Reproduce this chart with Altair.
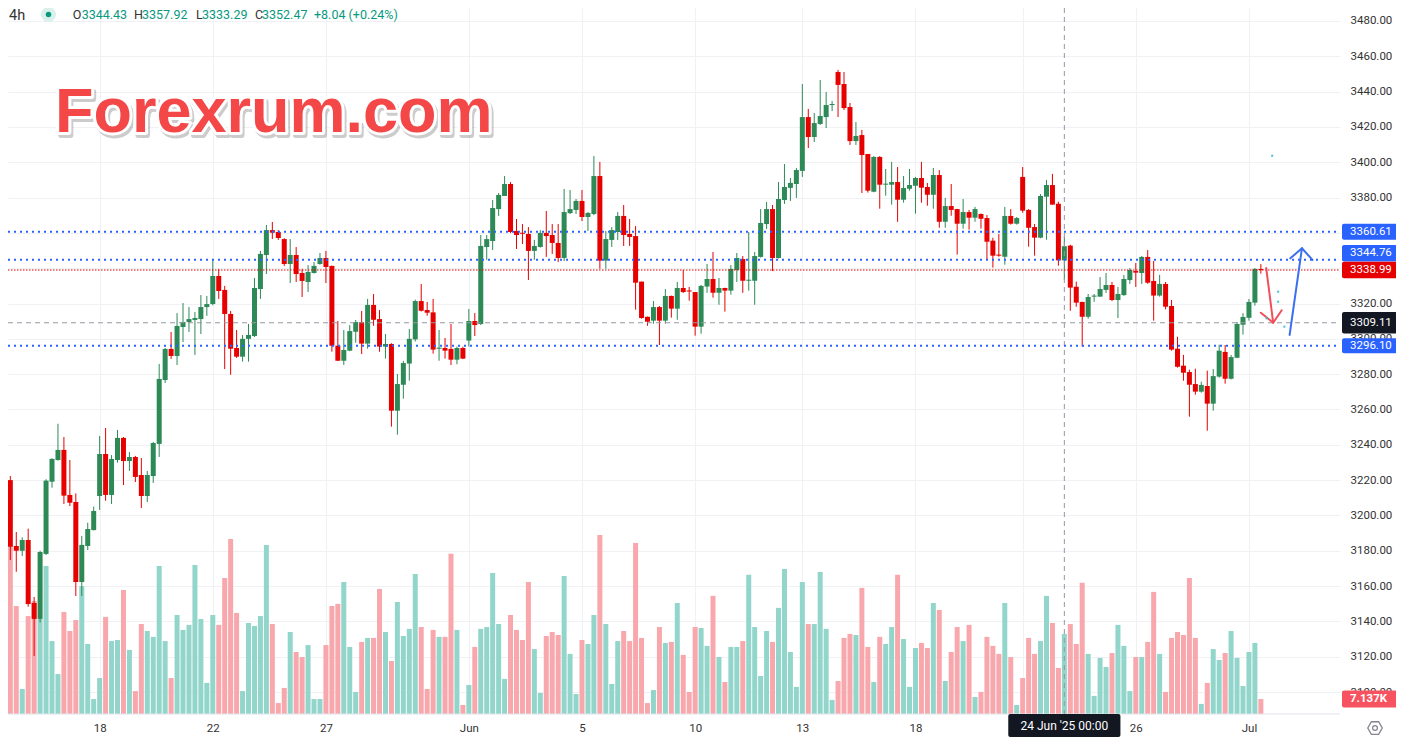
import altair as alt
import pandas as pd

# ---------------- values (4h bars, first bar index -1) ----------------
FIRST_INDEX = -1
OPEN = [
    3238.5, 3220.0, 3182.7, 3180.0, 3186.1, 3150.4, 3141.4, 3178.2, 3219.1, 3231.4,
    3237.1, 3211.6, 3207.6, 3162.3, 3182.7, 3191.7, 3211.0, 3234.8, 3211.6, 3231.4,
    3243.9, 3230.8, 3233.1, 3222.9, 3211.0, 3222.3, 3240.5, 3276.7, 3294.3, 3290.3,
    3306.7, 3309.5, 3310.7, 3311.2, 3318.0, 3319.7, 3335.6, 3327.7, 3314.1, 3294.8,
    3289.9, 3300.0, 3301.6, 3328.2, 3347.5, 3361.6, 3360.5, 3356.5, 3342.4, 3347.5,
    3337.3, 3332.2, 3337.3, 3342.4, 3345.8, 3341.3, 3296.1, 3287.6, 3293.3, 3304.0,
    3309.5, 3297.3, 3319.2, 3311.2, 3295.6, 3297.1, 3259.3, 3274.0, 3286.0, 3299.7,
    3321.4, 3316.3, 3315.0, 3294.4, 3294.8, 3294.3, 3288.2, 3294.8, 3299.0, 3310.1,
    3308.4, 3352.0, 3355.4, 3373.5, 3380.9, 3387.7, 3361.1, 3360.0, 3359.4, 3349.8,
    3352.0, 3360.0, 3358.8, 3354.3, 3345.8, 3371.2, 3373.0, 3378.1, 3369.0, 3370.7,
    3392.2, 3344.3, 3356.0, 3360.5, 3369.6, 3359.4, 3358.2, 3332.4, 3312.5, 3310.3,
    3318.0, 3310.3, 3324.3, 3317.1, 3328.8, 3327.1, 3326.5, 3306.9, 3329.6, 3333.9,
    3326.1, 3328.8, 3327.3, 3339.0, 3345.2, 3332.9, 3332.9, 3346.4, 3365.0, 3373.5,
    3345.8, 3378.6, 3385.5, 3387.7, 3395.1, 3425.6, 3414.3, 3421.7, 3425.6, 3432.4,
    3451.1, 3444.3, 3431.3, 3412.0, 3415.4, 3404.7, 3383.3, 3403.0, 3387.3, 3387.3,
    3388.8, 3378.8, 3385.0, 3386.7, 3391.1, 3386.0, 3381.6, 3392.8, 3366.3, 3375.2,
    3373.5, 3365.2, 3371.8, 3368.6, 3370.7, 3368.4, 3355.6, 3347.5, 3346.5, 3369.6,
    3365.2, 3391.7, 3373.0, 3363.3, 3357.3, 3380.5, 3387.1, 3376.5, 3344.43, 3352.8,
    3329.5, 3320.9, 3312.5, 3323.9, 3323.9, 3327.7, 3330.5, 3322.0, 3324.8, 3333.3,
    3338.4, 3337.3, 3346.4, 3332.8, 3324.5, 3331.1, 3318.6, 3294.4, 3284.8, 3281.2,
    3274.4, 3270.1, 3273.3, 3263.3, 3278.6, 3292.6, 3277.4, 3289.3, 3308.0, 3311.9,
    3320.5, 3339.3,
]
HIGH = [
    3243.0, 3222.3, 3190.6, 3187.6, 3192.5, 3153.8, 3180.0, 3220.5, 3232.4, 3251.9,
    3244.4, 3231.4, 3212.5, 3188.4, 3195.9, 3205.0, 3245.0, 3249.5, 3234.2, 3248.4,
    3244.4, 3235.9, 3233.7, 3232.5, 3225.2, 3241.6, 3285.8, 3294.8, 3303.9, 3314.6,
    3320.3, 3318.0, 3315.2, 3324.8, 3324.3, 3345.2, 3339.6, 3330.0, 3315.8, 3305.0,
    3302.2, 3308.4, 3334.5, 3349.8, 3364.5, 3366.2, 3361.6, 3357.0, 3356.5, 3352.0,
    3339.6, 3341.8, 3343.5, 3348.6, 3349.8, 3341.5, 3310.1, 3305.0, 3307.8, 3310.7,
    3315.8, 3322.6, 3325.4, 3316.3, 3302.7, 3297.5, 3280.1, 3287.5, 3305.6, 3322.2,
    3331.1, 3320.9, 3322.6, 3305.0, 3300.5, 3308.4, 3295.6, 3295.6, 3316.9, 3314.6,
    3358.8, 3358.8, 3378.6, 3382.6, 3392.2, 3388.8, 3367.9, 3365.0, 3363.3, 3356.0,
    3361.6, 3372.4, 3365.0, 3365.0, 3384.9, 3384.3, 3379.2, 3384.3, 3371.8, 3403.5,
    3400.2, 3361.1, 3363.3, 3371.8, 3375.8, 3367.9, 3363.9, 3332.5, 3312.6, 3321.4,
    3318.6, 3328.2, 3324.5, 3332.2, 3339.0, 3329.4, 3326.5, 3330.5, 3342.4, 3349.2,
    3334.5, 3329.0, 3341.8, 3348.6, 3346.9, 3360.5, 3349.2, 3373.5, 3377.5, 3375.8,
    3388.8, 3399.0, 3391.1, 3396.8, 3444.3, 3430.2, 3427.9, 3446.6, 3439.8, 3434.7,
    3452.3, 3451.1, 3433.6, 3422.8, 3418.3, 3404.7, 3403.5, 3403.5, 3396.2, 3400.2,
    3397.3, 3392.2, 3396.2, 3391.7, 3400.2, 3388.3, 3396.8, 3395.6, 3379.8, 3387.7,
    3373.6, 3379.2, 3373.0, 3374.7, 3371.0, 3370.1, 3357.3, 3359.4, 3374.7, 3373.5,
    3369.0, 3397.3, 3373.5, 3365.0, 3382.0, 3390.0, 3393.4, 3377.7, 3357.92, 3353.3,
    3332.4, 3321.0, 3325.4, 3325.4, 3335.0, 3337.3, 3332.2, 3329.4, 3336.2, 3340.1,
    3343.0, 3346.9, 3350.3, 3344.1, 3336.2, 3332.2, 3322.0, 3301.2, 3290.9, 3282.5,
    3283.1, 3275.7, 3282.0, 3282.9, 3296.7, 3296.5, 3290.9, 3309.5, 3314.6, 3322.6,
    3340.1, 3342.4,
]
LOW = [
    3219.0, 3174.8, 3168.1, 3177.0, 3148.3, 3120.4, 3139.3, 3177.6, 3215.7, 3231.0,
    3206.5, 3205.3, 3154.4, 3154.4, 3180.4, 3191.5, 3203.1, 3208.3, 3206.5, 3229.9,
    3217.2, 3225.2, 3218.9, 3204.2, 3207.6, 3218.4, 3233.1, 3275.0, 3288.6, 3285.2,
    3298.2, 3303.9, 3290.9, 3302.7, 3313.0, 3319.0, 3322.6, 3282.9, 3279.7, 3289.2,
    3287.1, 3287.1, 3301.0, 3322.6, 3336.7, 3356.5, 3356.0, 3341.3, 3331.6, 3332.2,
    3323.7, 3326.5, 3337.0, 3342.0, 3331.6, 3292.7, 3287.5, 3285.2, 3293.0, 3297.8,
    3291.4, 3294.4, 3307.4, 3292.7, 3288.8, 3250.3, 3245.7, 3266.1, 3276.3, 3298.5,
    3315.5, 3313.1, 3291.6, 3287.6, 3288.8, 3285.2, 3285.6, 3288.5, 3295.6, 3301.6,
    3307.8, 3344.7, 3350.3, 3369.6, 3380.9, 3359.9, 3350.9, 3353.7, 3333.3, 3344.7,
    3351.7, 3346.4, 3348.1, 3343.5, 3344.1, 3370.7, 3370.7, 3366.7, 3361.1, 3370.0,
    3339.7, 3339.7, 3352.0, 3356.0, 3352.6, 3352.6, 3316.5, 3311.4, 3307.4, 3308.6,
    3296.5, 3308.6, 3312.0, 3310.8, 3326.0, 3321.6, 3301.8, 3302.9, 3326.1, 3323.3,
    3319.3, 3315.4, 3325.0, 3332.2, 3326.1, 3327.3, 3319.3, 3346.0, 3362.2, 3338.4,
    3345.5, 3376.4, 3378.1, 3379.8, 3391.7, 3408.1, 3411.5, 3421.1, 3419.4, 3429.0,
    3425.6, 3429.6, 3409.8, 3409.8, 3382.6, 3382.8, 3383.0, 3373.7, 3381.1, 3376.0,
    3366.3, 3377.1, 3383.9, 3370.9, 3377.1, 3375.4, 3373.7, 3362.9, 3362.9, 3369.7,
    3347.7, 3362.4, 3361.8, 3366.3, 3362.4, 3344.8, 3340.3, 3346.5, 3342.0, 3364.7,
    3364.7, 3371.4, 3352.2, 3347.1, 3357.0, 3356.1, 3376.0, 3341.4, 3333.29, 3315.9,
    3318.2, 3295.6, 3311.4, 3321.0, 3323.8, 3326.0, 3321.4, 3311.8, 3324.3, 3331.1,
    3329.4, 3331.1, 3331.2, 3310.3, 3323.9, 3316.7, 3293.3, 3283.7, 3276.3, 3255.9,
    3268.4, 3269.5, 3248.0, 3259.3, 3278.0, 3274.6, 3277.0, 3289.0, 3302.4, 3310.3,
    3318.8, 3336.9,
]
CLOSE = [
    3220.0, 3182.3, 3180.0, 3186.1, 3149.8, 3141.4, 3179.3, 3219.7, 3232.0, 3237.1,
    3211.2, 3207.2, 3162.3, 3183.3, 3192.3, 3202.5, 3234.8, 3211.6, 3232.0, 3243.9,
    3230.8, 3233.1, 3221.8, 3211.0, 3222.9, 3241.0, 3277.3, 3294.3, 3290.3, 3307.3,
    3309.5, 3311.2, 3311.8, 3318.0, 3319.7, 3335.6, 3327.1, 3314.1, 3294.4, 3289.9,
    3300.0, 3302.2, 3328.8, 3348.1, 3361.6, 3360.1, 3357.1, 3342.4, 3347.5, 3336.7,
    3332.8, 3337.9, 3341.3, 3345.8, 3340.7, 3296.1, 3287.6, 3293.7, 3304.4, 3309.5,
    3297.3, 3319.2, 3310.8, 3295.6, 3297.1, 3259.3, 3274.4, 3286.3, 3300.0, 3321.4,
    3315.9, 3314.8, 3293.9, 3295.0, 3293.3, 3288.2, 3294.8, 3288.8, 3310.1, 3307.8,
    3352.6, 3356.5, 3374.1, 3381.5, 3387.7, 3360.5, 3358.8, 3359.5, 3349.8, 3352.6,
    3360.0, 3358.2, 3354.3, 3345.8, 3371.8, 3373.5, 3378.1, 3369.0, 3371.3, 3392.2,
    3344.3, 3356.5, 3361.6, 3369.6, 3358.8, 3357.7, 3331.8, 3311.8, 3309.7, 3318.0,
    3310.3, 3324.3, 3317.1, 3328.8, 3326.5, 3326.8, 3306.9, 3330.0, 3333.9, 3326.1,
    3328.8, 3327.3, 3339.6, 3345.8, 3332.9, 3333.3, 3346.9, 3365.6, 3373.5, 3345.8,
    3379.2, 3386.0, 3388.3, 3395.6, 3425.6, 3414.3, 3422.2, 3426.2, 3432.4, 3432.6,
    3443.8, 3430.7, 3412.0, 3414.9, 3404.1, 3383.9, 3403.0, 3387.3, 3387.7, 3388.8,
    3378.8, 3385.4, 3387.1, 3391.1, 3385.6, 3381.6, 3392.8, 3366.3, 3375.2, 3373.0,
    3365.2, 3371.8, 3368.6, 3373.5, 3368.0, 3355.0, 3347.1, 3347.1, 3369.6, 3365.2,
    3368.4, 3372.6, 3362.9, 3357.3, 3380.9, 3387.1, 3376.0, 3344.43, 3352.47, 3329.0,
    3320.5, 3312.5, 3323.7, 3324.3, 3328.2, 3330.5, 3322.0, 3325.4, 3333.9, 3339.0,
    3337.5, 3346.4, 3331.8, 3324.5, 3331.1, 3318.2, 3293.9, 3284.2, 3280.8, 3274.0,
    3270.1, 3273.9, 3263.3, 3278.9, 3293.3, 3277.4, 3289.7, 3308.4, 3312.4, 3320.9,
    3339.6, 3338.99,
]
VOLUME_K = [
    49.0, 80.9, 51.4, 11.9, 46.6, 53.8, 45.2, 70.4, 34.7, 19.0,
    48.5, 39.5, 44.7, 60.9, 33.3, 7.1, 17.1, 46.2, 34.7, 35.2,
    59.0, 30.5, 10.9, 42.8, 39.5, 36.7, 70.4, 34.7, 17.1, 47.1,
    40.0, 42.4, 70.9, 45.2, 14.8, 47.1, 42.4, 64.7, 83.3, 48.1,
    10.9, 43.3, 41.9, 46.6, 80.4, 42.8, 5.2, 12.4, 39.0, 29.5,
    27.1, 32.8, 7.1, 7.1, 32.8, 51.4, 52.4, 62.8, 31.9, 10.5,
    34.3, 36.2, 36.2, 59.5, 39.0, 25.2, 53.3, 37.1, 40.5, 66.6,
    41.4, 11.9, 40.0, 36.7, 36.7, 76.2, 40.0, 4.3, 13.8, 31.9,
    40.5, 41.4, 67.1, 42.8, 16.7, 47.1, 40.0, 35.2, 62.8, 30.9,
    10.0, 37.1, 39.0, 37.6, 65.7, 28.6, 9.5, 35.2, 33.3, 47.1,
    85.2, 42.8, 14.3, 34.7, 39.5, 34.7, 81.4, 36.2, 5.2, 11.4,
    41.4, 33.8, 34.3, 52.8, 28.1, 10.5, 41.4, 40.9, 32.4, 56.2,
    27.1, 15.2, 31.9, 31.9, 34.7, 66.2, 41.4, 18.1, 39.5, 34.3,
    50.5, 69.0, 29.5, 12.9, 62.8, 42.8, 42.8, 67.6, 40.5, 6.7,
    15.7, 36.2, 38.1, 37.6, 60.0, 31.9, 15.2, 36.7, 33.3, 41.4,
    66.2, 35.7, 12.9, 31.4, 33.8, 31.4, 52.8, 49.5, 15.7, 29.5,
    41.4, 34.7, 42.4, 8.1, 10.5, 36.7, 32.4, 28.6, 52.8, 27.1,
    4.3, 17.1, 36.2, 28.6, 34.7, 56.2, 43.3, 21.9, 38.1, 42.8,
    33.3, 62.4, 28.6, 8.6, 26.7, 22.4, 29.0, 42.4, 32.4, 10.9,
    27.1, 27.1, 34.3, 58.1, 28.6, 10.5, 36.2, 39.0, 37.6, 64.7,
    36.2, 4.8, 14.8, 30.9, 25.7, 29.0, 39.5, 26.7, 13.3, 29.5,
    33.8, 7.137,
]
assert len(OPEN) == len(HIGH) == len(LOW) == len(CLOSE) == len(VOLUME_K) == 212

DATE_TICKS = [15, 34, 53, 77, 96, 115, 133, 152, 170, 189, 208]
DATE_LABELS = ["18", "22", "27", "Jun", "5", "10", "13", "18", "23", "26", "Jul"]
HIDDEN_TICKS = [170]   # label sits under the crosshair time box
PRICE_TICKS = list(range(3100, 3481, 20))

LEVELS = [3360.61, 3344.76, 3338.99, 3309.11, 3296.10]
CROSS_INDEX = 177
CROSS_TIME = "24 Jun '25   00:00"
TIMEFRAME = "4h"
WATERMARK = "Forexrum.com"
LAST_VOLUME_LABEL = "7.137K"

RED_ARROW = [("shaft", 210.9, 3340.1), ("shaft", 212.07, 3309.1),
             ("head", 210.0, 3314.8), ("head", 212.07, 3309.1), ("head", 213.5, 3316.2)]
BLUE_ARROW = [("shaft", 214.83, 3302.2), ("shaft", 216.9, 3351.3),
              ("head", 214.95, 3345.6), ("head", 216.9, 3351.3), ("head", 218.67, 3344.7)]
DOTS_I = [211.9, 212.9, 212.9, 210.95, 213.95]
DOTS_P = [3403.7, 3326.7, 3321.0, 3311.6, 3306.9]

# ---------------- layout & style ----------------
W, H = 1332, 706
PAD = {"left": 0, "top": 0, "right": 56, "bottom": 26}
X_DOMAIN = [0.45, 222.45]
P_DOMAIN = [3087.543, 3487.362]
V_DOMAIN = [0.0, 335.9]
U = (P_DOMAIN[1] - P_DOMAIN[0]) / H      # price units per pixel
VU = (V_DOMAIN[1] - V_DOMAIN[0]) / H     # volume units per pixel

GREEN, RED = "#2d8a57", "#e60000"
VOL_UP, VOL_DN = "#92d5ca", "#f8a7ac"
BLUE, DARK, GRID, TXT = "#2962ff", "#131722", "#eff1f5", "#333333"
FONT = "Roboto"
LEVEL_BOX_COLOR = [BLUE, BLUE, RED, DARK, BLUE]
LEVEL_NUDGE_PX = [0, 6.5, 0, 0, 0]
LEVEL_HALF_PX = [8, 8.3, 8.2, 10.7, 7.5]
BOX_X0, BOX_X1, BOX_TX = 1334, 1389, 1342
LEGEND_X = [64.7, 73.7, 126, 134, 188, 194, 247, 254, 306]
HEXAGON = "M-1,0L-0.5,-0.866L0.5,-0.866L1,0L0.5,0.866L-0.5,0.866Z"

# ---------------- tables ----------------
df = pd.DataFrame({"i": list(range(FIRST_INDEX, FIRST_INDEX + len(OPEN))),
                   "open": OPEN, "high": HIGH, "low": LOW, "close": CLOSE, "vol": VOLUME_K})
df["lo"] = df[["open", "close"]].min(axis=1)
df["hi"] = pd.concat([df[["open", "close"]].max(axis=1), df["lo"] + 0.6], axis=1).max(axis=1)
df["v0"] = 0.0
UP = "datum.close >= datum.open"

label_expr = " : ".join(
    f"datum.value == {v} ? '{'' if v in HIDDEN_TICKS else l}'" for v, l in zip(DATE_TICKS, DATE_LABELS)) + " : ''"
x_axis = alt.Axis(values=DATE_TICKS, labelExpr=label_expr, grid=True, gridColor=GRID, ticks=False,
                  tickSize=0, domain=False, labelPadding=8, labelFont=FONT, labelFontSize=11.5,
                  labelColor=TXT, labelFlush=False, labelOverlap=False, title=None)
y_axis = alt.Axis(orient="right", values=PRICE_TICKS, format=".2f", grid=True, gridColor=GRID,
                  ticks=False, tickSize=0, domain=False, labelPadding=10, labelFont=FONT,
                  labelFontSize=11.5, labelColor=TXT, labelOverlap=False, labelFlush=False, title=None)


def X(f="i"):
    return alt.X(f, type="quantitative", scale=alt.Scale(domain=X_DOMAIN, nice=False, zero=False), axis=x_axis)


def Y(f):
    return alt.Y(f, type="quantitative", scale=alt.Scale(domain=P_DOMAIN, nice=False, zero=False), axis=y_axis)


def YV(f):
    return alt.Y(f, type="quantitative", scale=alt.Scale(domain=V_DOMAIN, nice=False, zero=True), axis=None)


base = alt.Chart(df)

# volume
vol_bars = base.mark_bar(width=5, clip=True).encode(
    x=X(), y=YV("vol"), y2="v0",
    color=alt.condition(UP, alt.value(VOL_UP), alt.value(VOL_DN)))
vdf = pd.DataFrame({"v": [VOLUME_K[-1]], "label": [LAST_VOLUME_LABEL]})
vdf["lo"] = vdf["v"] - 8.5 * VU
vdf["hi"] = vdf["v"] + 8.5 * VU
vol_box = alt.Chart(vdf).mark_rect(color="#f7525f", cornerRadius=2).encode(
    x=alt.value(BOX_X0), x2=alt.value(BOX_X1), y=YV("lo"), y2="hi")
vol_txt = alt.Chart(vdf).mark_text(align="left", baseline="middle", color="white", font=FONT,
                                   fontSize=11.5, fontWeight="bold").encode(
    x=alt.value(BOX_TX), y=YV("v"), text="label:N")
vol_layer = alt.layer(vol_bars, vol_box, vol_txt)

# candles
wicks = base.mark_rule(strokeWidth=1, clip=True).encode(
    x=X(), y=Y("low"), y2="high", color=alt.condition(UP, alt.value(GREEN), alt.value(RED)))
bodies = base.mark_bar(width=5, clip=True).encode(
    x=X(), y=Y("lo"), y2="hi", color=alt.condition(UP, alt.value(GREEN), alt.value(RED)))

# levels
lv = pd.DataFrame({"price": LEVELS, "label": [f"{p:.2f}" for p in LEVELS], "fill": LEVEL_BOX_COLOR})
lv["c"] = lv["price"] + pd.Series(LEVEL_NUDGE_PX) * U
lv["lo"] = lv["c"] - pd.Series(LEVEL_HALF_PX) * U
lv["hi"] = lv["c"] + pd.Series(LEVEL_HALF_PX) * U
lvc = alt.Chart(lv)
blue_rules = lvc.transform_filter(f"datum.fill == '{BLUE}'").mark_rule(
    color=BLUE, strokeWidth=2, strokeDash=[2, 4]).encode(y=Y("price"), x=alt.value(0), x2=alt.value(W))
last_rule = lvc.transform_filter(f"datum.fill == '{RED}'").mark_rule(
    color=RED, strokeWidth=1.2, strokeDash=[1.5, 1.5]).encode(y=Y("price"), x=alt.value(0), x2=alt.value(W))
cross_rule = lvc.transform_filter(f"datum.fill == '{DARK}'").mark_rule(
    color="#9598a1", strokeWidth=1, strokeDash=[5, 4]).encode(y=Y("price"), x=alt.value(0), x2=alt.value(W))
boxes = lvc.mark_rect(cornerRadius=2).encode(
    x=alt.value(BOX_X0), x2=alt.value(BOX_X1), y=Y("lo"), y2="hi", color=alt.Color("fill:N", scale=None))
box_txt = lvc.mark_text(align="left", baseline="middle", color="white", font=FONT, fontSize=11.5).encode(
    x=alt.value(BOX_TX), y=Y("c"), text="label:N")

# crosshair (vertical) and time label
cx = pd.DataFrame({"i": [CROSS_INDEX], "label": [CROSS_TIME]})
cx["x0"] = cx["i"] - 56.5 / 6
cx["x1"] = cx["i"] + 56.5 / 6
cross_v = alt.Chart(cx).mark_rule(color="#9598a1", strokeWidth=1, strokeDash=[5, 4]).encode(
    x=X(), y=alt.value(0), y2=alt.value(H))
time_box = alt.Chart(cx).mark_rect(color=DARK, cornerRadius=2).encode(
    x=X("x0"), x2="x1", y=alt.value(H), y2=alt.value(H + 23))
time_txt = alt.Chart(cx).mark_text(align="center", baseline="middle", color="white", font=FONT,
                                   fontSize=12).encode(x=X(), y=alt.value(H + 12), text="label:N")
bottom_line = alt.Chart(cx).mark_rule(color="#e0e3eb").encode(
    x=alt.value(0), x2=alt.value(W), y=alt.value(H))
gear = alt.Chart(cx).mark_point(shape=HEXAGON, size=210, filled=False, color="#50535e", strokeWidth=1.3).encode(
    x=alt.value(1367), y=alt.value(720))
gear_hole = alt.Chart(cx).mark_point(shape="circle", size=22, filled=False, color="#50535e", strokeWidth=1.3).encode(
    x=alt.value(1367), y=alt.value(720))

# arrows & dots
def arrow(pts, color):
    a = pd.DataFrame(pts, columns=["seg", "i", "p"])
    a["k"] = range(len(a))
    return alt.Chart(a).mark_line(color=color, strokeWidth=2, strokeCap="round", strokeJoin="round").encode(
        x=X(), y=Y("p"), detail="seg:N", order="k:Q")


red_arrow = arrow(RED_ARROW, "#f0505c")
blue_arrow = arrow(BLUE_ARROW, "#3a6ff0")
dots = alt.Chart(pd.DataFrame({"i": DOTS_I, "p": DOTS_P})).mark_square(size=4, color="#3cc3d6", opacity=1).encode(
    x=X(), y=Y("p"))

# legend row
row = df.loc[df.i == CROSS_INDEX].iloc[0]
prev_close = df.loc[df.i == CROSS_INDEX - 1, "close"].iloc[0]
chg = row.close - prev_close
parts = [("O", TXT), (f"{row.open:.2f}", "#089981"), ("H", TXT), (f"{row.high:.2f}", "#089981"),
         ("L", TXT), (f"{row.low:.2f}", "#089981"), ("C", TXT), (f"{row.close:.2f}", "#089981"),
         (f"{chg:+.2f} ({chg / prev_close * 100:+.2f}%)", "#089981")]
legend_layers = []
for (t, col), lx in zip(parts, LEGEND_X):
    legend_layers.append(alt.Chart(pd.DataFrame({"t": [t]})).mark_text(
        align="left", baseline="middle", font=FONT, fontSize=12.5, color=col).encode(
        x=alt.value(lx), y=alt.value(7), text="t:N"))
tf = alt.Chart(pd.DataFrame({"t": [TIMEFRAME]})).mark_text(
    align="left", baseline="middle", font=FONT, fontSize=14.5, color=TXT).encode(
    x=alt.value(1), y=alt.value(7.5), text="t:N")
halo = alt.Chart(pd.DataFrame({"t": [TIMEFRAME]})).mark_circle(size=227, color="#d9f0eb", opacity=1).encode(
    x=alt.value(40.5), y=alt.value(6.5))
dot = alt.Chart(pd.DataFrame({"t": [TIMEFRAME]})).mark_circle(size=30, color="#089981", opacity=1).encode(
    x=alt.value(40.5), y=alt.value(6.5))

# watermark
wm = alt.Chart(pd.DataFrame({"t": [WATERMARK]}))
wm_kw = dict(align="left", baseline="alphabetic", font="Liberation Sans", fontSize=63, fontWeight="bold")
wm_shadow = wm.mark_text(fill="#6f6f6f", stroke="#6f6f6f", strokeWidth=6, opacity=0.35, dx=2, dy=3,
                         strokeJoin="round", **wm_kw).encode(x=alt.value(47), y=alt.value(124), text="t:N")
wm_outline = wm.mark_text(fill="white", stroke="white", strokeWidth=6, strokeJoin="round", **wm_kw).encode(
    x=alt.value(47), y=alt.value(124), text="t:N")
wm_fill = wm.mark_text(fill="#f44848", **wm_kw).encode(x=alt.value(47), y=alt.value(124), text="t:N")

price_layer = alt.layer(
    bottom_line, wicks, bodies, cross_v, blue_rules, last_rule, cross_rule, red_arrow, blue_arrow, dots,
    boxes, box_txt, time_box, time_txt, gear, gear_hole, *legend_layers, halo, dot, tf,
    wm_shadow, wm_outline, wm_fill)

chart = alt.layer(vol_layer, price_layer).resolve_scale(y="independent").properties(
    width=W, height=H, padding=PAD, autosize=alt.AutoSizeParams(type="none"), background="white"
).configure_view(stroke=None)

chart.save("out.html", embed_options={"renderer": "svg", "actions": False})
